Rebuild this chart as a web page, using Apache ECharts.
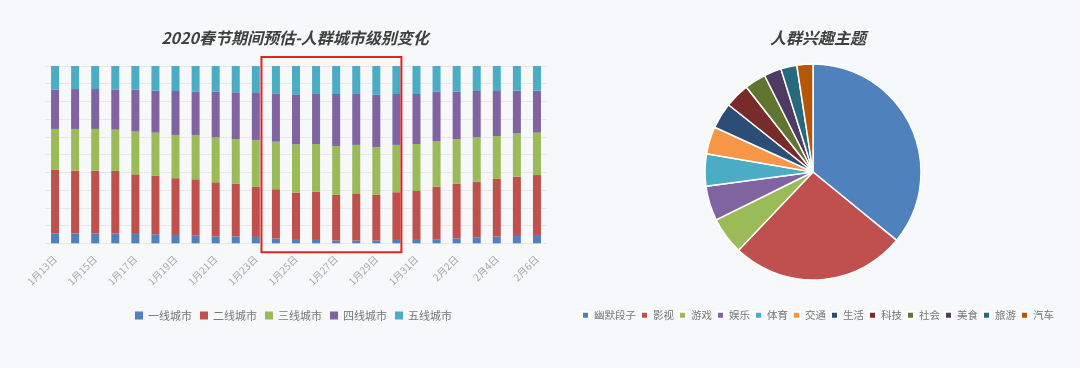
<!DOCTYPE html>
<html>
<head>
<meta charset="utf-8">
<script src="https://cdn.jsdelivr.net/npm/echarts@6/dist/echarts.min.js"></script>
<style>
html,body{margin:0;padding:0;background:#f7f8fa;}
#c{width:1080px;height:368px;}
</style>
</head>
<body>
<div id="c"></div>
<script>
const days = ['1月13日','1月14日','1月15日','1月16日','1月17日','1月18日','1月19日','1月20日','1月21日','1月22日','1月23日','1月24日','1月25日','1月26日','1月27日','1月28日','1月29日','1月30日','1月31日','2月1日','2月2日','2月3日','2月4日','2月5日','2月6日'];
const tier1 = [5.6,5.6,5.6,5.5,5.3,5.1,4.7,4.3,3.8,3.8,3.6,2.8,1.9,1.9,1.5,1.5,1.5,1.9,1.9,2.3,2.8,3.4,3.8,4.1,4.7];
const tier2 = [35.8,35.4,35.4,35.3,33.6,33.1,32.0,31.8,30.6,29.7,28.2,27.7,26.7,27.2,25.8,26.3,25.8,26.9,27.6,29.7,30.7,31.4,32.5,33.5,33.8];
const tier3 = [23.1,23.5,23.5,23.3,24.1,24.2,24.4,25.0,25.4,25.3,26.5,26.8,27.2,26.9,27.6,27.7,26.8,26.7,26.5,25.7,25.3,25.0,24.2,24.4,23.9];
const tier4 = [22.3,22.5,22.5,22.7,23.8,23.7,24.8,24.4,25.7,26.4,26.9,27.3,28.2,28.2,29.3,28.7,29.7,28.7,28.2,27.8,26.7,26.1,25.4,24.1,23.7];
const tier5 = [13.2,13.0,13.0,13.2,13.2,13.9,14.1,14.5,14.5,14.8,14.8,15.4,16.0,15.8,15.8,15.8,16.2,15.8,15.8,14.5,14.5,14.1,14.1,13.9,13.9];
const tierNames = ['一线城市','二线城市','三线城市','四线城市','五线城市'];
const tierColors = ['#4F81BD','#C0504D','#9BBB59','#8064A2','#4BACC6'];
const topics = ['幽默段子','影视','游戏','娱乐','体育','交通','生活','科技','社会','美食','旅游','汽车'];
const topicValues = [35.9,26.2,5.6,5.2,4.8,4.1,3.9,3.7,3.2,2.6,2.4,2.4];
const topicColors = ['#4F81BD','#C0504D','#9BBB59','#8064A2','#4BACC6','#F79646','#2C4D75','#772C2A','#5F7530','#4D3B62','#276A7C','#B65708'];
const highlightStart = '1月24日';
const highlightEnd = '1月30日';

const font = '"Noto Sans CJK SC", "Noto Sans", sans-serif';
const chart = echarts.init(document.getElementById('c'));
const tiers = [tier1, tier2, tier3, tier4, tier5];
const barSeries = tiers.map((d, i) => ({
  name: tierNames[i],
  type: 'bar',
  stack: 'all',
  barWidth: 8,
  data: d,
  itemStyle: { color: tierColors[i] }
}));

chart.setOption({
  backgroundColor: '#f7f8fa',
  textStyle: { fontFamily: font },
  title: [
    { text: '2020春节期间预估-人群城市级别变化', left: 290, top: 25, textAlign: 'center',
      textStyle: { fontFamily: font, fontSize: 16, fontWeight: 'bold', fontStyle: 'italic', color: '#404040' } },
    { text: '人群兴趣主题', left: 813, top: 25, textAlign: 'center',
      textStyle: { fontFamily: font, fontSize: 16, fontWeight: 'bold', fontStyle: 'italic', color: '#404040' } }
  ],
  legend: [
    { data: tierNames, left: 130, top: 305, itemWidth: 8, itemHeight: 8, itemGap: 8,
      icon: 'rect', textStyle: { fontFamily: font, fontSize: 11, color: '#777' } },
    { data: topics, left: 576, top: 305, width: 500, itemWidth: 7, itemHeight: 7, itemGap: 4,
      icon: 'rect', textStyle: { fontFamily: font, fontSize: 10.5, color: '#777' } }
  ],
  grid: { left: 45, right: 1080 - 547, top: 66, bottom: 368 - 243.3 },
  xAxis: {
    type: 'category',
    data: days,
    axisLine: { show: false },
    axisTick: { show: false },
    axisLabel: { interval: 1, rotate: 45, fontSize: 10, color: '#a8a8a8', margin: 14, fontFamily: font }
  },
  yAxis: {
    type: 'value', min: 0, max: 100, interval: 10,
    axisLabel: { show: false }, axisLine: { show: false }, axisTick: { show: false },
    splitLine: { lineStyle: { color: '#e4e6ea', width: 1 } }
  },
  series: barSeries.concat([{
    type: 'pie',
    center: [813, 172],
    radius: 108,
    startAngle: 90,
    clockwise: true,
    label: { show: false },
    labelLine: { show: false },
    itemStyle: { borderColor: '#ffffff', borderWidth: 1.5 },
    data: topics.map((n, i) => ({ name: n, value: topicValues[i], itemStyle: { color: topicColors[i] } }))
  }])
});

// red highlight box around the Spring Festival days
const i0 = days.indexOf(highlightStart), i1 = days.indexOf(highlightEnd);
const p0 = chart.convertToPixel({ gridIndex: 0 }, [i0, 100]);
const p1 = chart.convertToPixel({ gridIndex: 0 }, [i1, 0]);
const step = chart.convertToPixel({ gridIndex: 0 }, [1, 0])[0] - chart.convertToPixel({ gridIndex: 0 }, [0, 0])[0];
const x0 = p0[0] - step * 0.72, x1 = p1[0] + step * 0.25;
const y0 = p0[1] - 9, y1 = p1[1] + 9;
chart.setOption({
  graphic: [{
    type: 'rect', shape: { x: x0, y: y0, width: x1 - x0, height: y1 - y0 },
    style: { fill: 'none', stroke: '#e02424', lineWidth: 2 }, z: 100
  }]
});
</script>
</body>
</html>
